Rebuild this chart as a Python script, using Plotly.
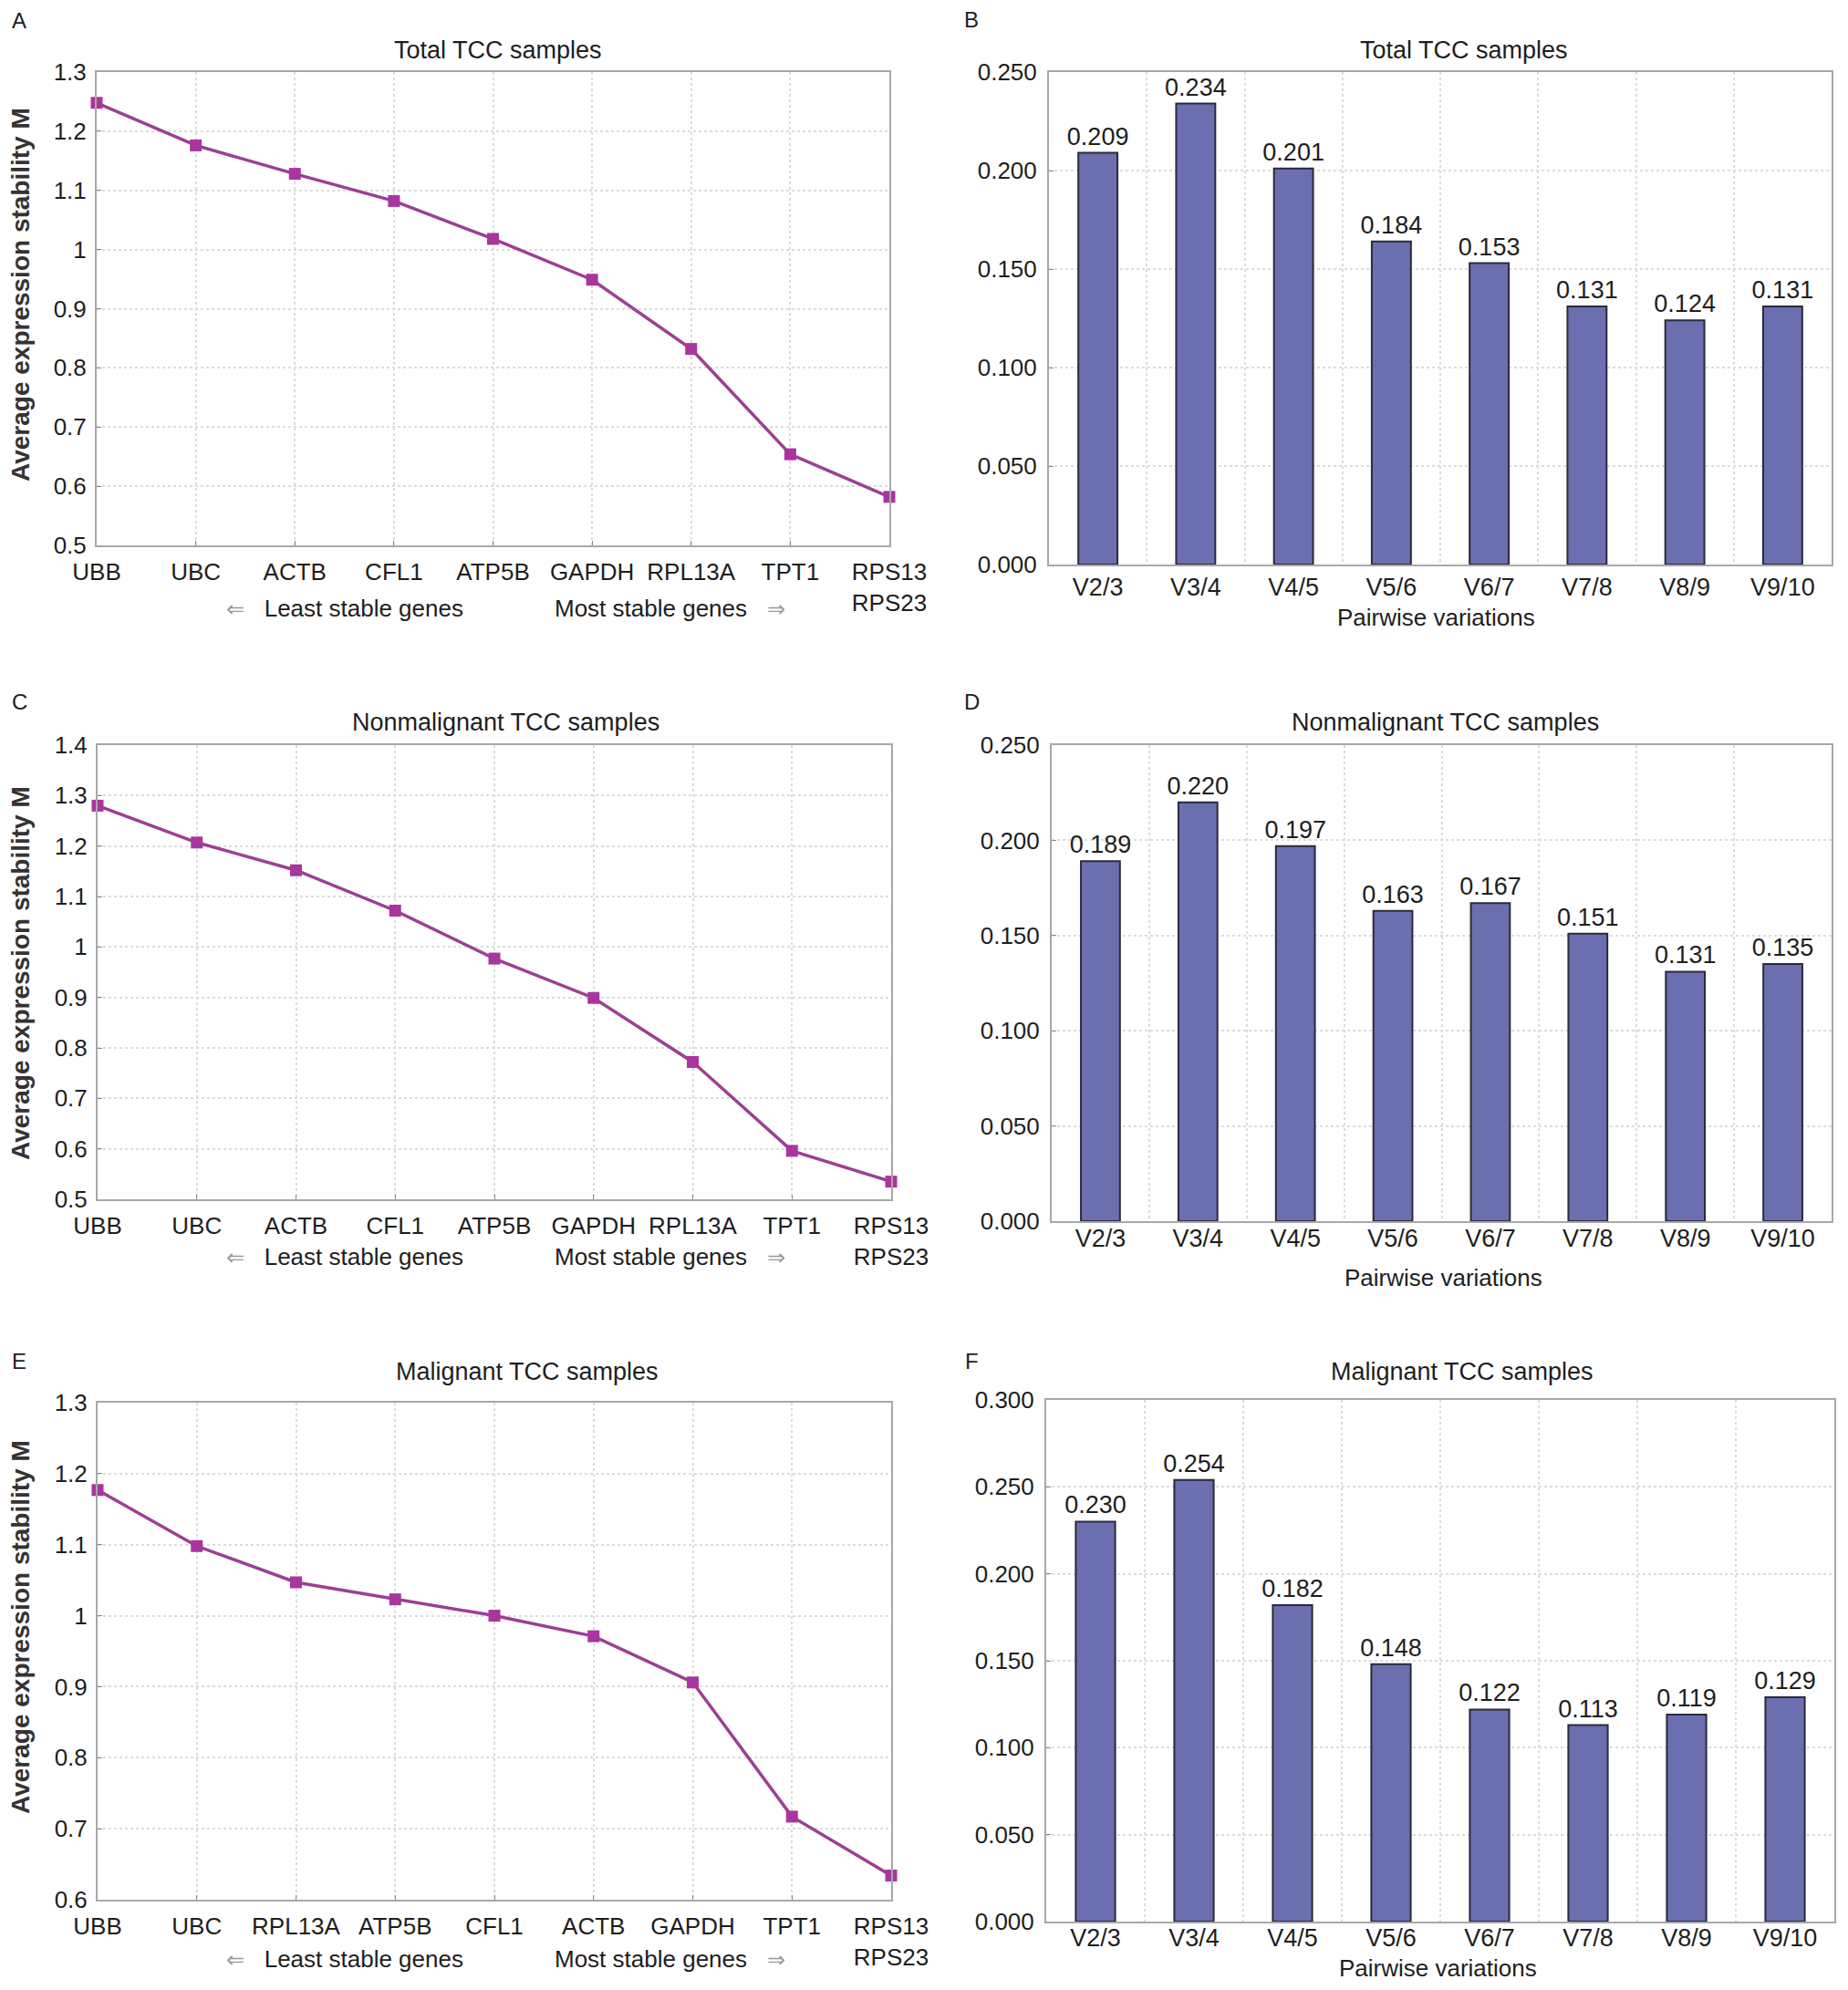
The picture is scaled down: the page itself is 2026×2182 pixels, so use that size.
import plotly.graph_objects as go
from plotly.subplots import make_subplots

# ---------------- data ----------------
genes_total = ["UBB", "UBC", "ACTB", "CFL1", "ATP5B", "GAPDH", "RPL13A", "TPT1", "RPS13<br>RPS23"]
m_total = [1.248, 1.176, 1.128, 1.082, 1.018, 0.949, 0.832, 0.654, 0.582]

genes_nonmal = ["UBB", "UBC", "ACTB", "CFL1", "ATP5B", "GAPDH", "RPL13A", "TPT1", "RPS13<br>RPS23"]
m_nonmal = [1.280, 1.207, 1.152, 1.072, 0.977, 0.899, 0.772, 0.596, 0.535]

genes_mal = ["UBB", "UBC", "RPL13A", "ATP5B", "CFL1", "ACTB", "GAPDH", "TPT1", "RPS13<br>RPS23"]
m_mal = [1.177, 1.098, 1.047, 1.023, 1.000, 0.971, 0.906, 0.717, 0.634]

pairs = ["V2/3", "V3/4", "V4/5", "V5/6", "V6/7", "V7/8", "V8/9", "V9/10"]
v_total = [0.209, 0.234, 0.201, 0.164, 0.153, 0.131, 0.124, 0.131]
v_total_labels = ["0.209", "0.234", "0.201", "0.184", "0.153", "0.131", "0.124", "0.131"]
v_nonmal = [0.189, 0.220, 0.197, 0.163, 0.167, 0.151, 0.131, 0.135]
v_nonmal_labels = ["0.189", "0.220", "0.197", "0.163", "0.167", "0.151", "0.131", "0.135"]
v_mal = [0.230, 0.254, 0.182, 0.148, 0.122, 0.113, 0.119, 0.129]
v_mal_labels = ["0.230", "0.254", "0.182", "0.148", "0.122", "0.113", "0.119", "0.129"]

titles = ["Total TCC samples", "Nonmalignant TCC samples", "Malignant TCC samples"]
panel_letters = ["A", "B", "C", "D", "E", "F"]

# page has an 8px body margin, so the figure is laid out in page pixels shifted by OFF
PAGE_W, PAGE_H = 2026, 2182
OFF = 8
W, H = PAGE_W - 2 * OFF, PAGE_H - 2 * OFF


def px(x):
    return (x - OFF) / W


def py(y):
    return 1 - (y - OFF) / H


FONT = "Liberation Sans, Arial, sans-serif"
TXT = "#1e1e1e"
LINE_C = "#9c3f93"
MARK_C = "#a9359f"
BAR_C = "#6b6fb0"
FRAME = "#a8a8a8"
GRID = "#dcdcdc"
FS = 26

fig = make_subplots(rows=3, cols=2)

line_sets = [(genes_total, m_total), (genes_nonmal, m_nonmal), (genes_mal, m_mal)]
bar_sets = [(v_total, v_total_labels), (v_nonmal, v_nonmal_labels), (v_mal, v_mal_labels)]

for r, (g, m) in enumerate(line_sets, start=1):
    fig.add_trace(go.Scatter(
        x=list(range(len(g))), y=m, mode="lines+markers",
        line=dict(color=LINE_C, width=3.5),
        marker=dict(symbol="square", size=13, color=MARK_C),
        cliponaxis=False, showlegend=False), row=r, col=1)

for r, (v, lab) in enumerate(bar_sets, start=1):
    fig.add_trace(go.Bar(
        x=pairs, y=v, text=lab, textposition="outside", constraintext="none",
        textfont=dict(family=FONT, size=27, color=TXT),
        cliponaxis=False, width=0.4,
        marker=dict(color=BAR_C, line=dict(color="#2a2a3a", width=2)),
        showlegend=False), row=r, col=2)

# plot areas in page pixel coordinates (left, right, top, bottom)
px_boxes = {
    (1, 1): (106, 975, 79, 598),
    (1, 2): (1150, 2008, 79, 619),
    (2, 1): (107, 977, 817, 1315),
    (2, 2): (1153, 2008, 817, 1339),
    (3, 1): (107, 977, 1538, 2083),
    (3, 2): (1147, 2011, 1535, 2107),
}
ytitle_y = {1: 323, 2: 1067, 3: 1784}
bar_xlabel_standoff = {1: 0, 2: -6, 3: -7}

line_ranges = [(0.5, 1.3), (0.5, 1.4), (0.6, 1.3)]
bar_ranges = [(0, 0.25), (0, 0.25), (0, 0.3)]

common_axis = dict(
    showline=True, linecolor=FRAME, linewidth=2, mirror=True,
    showgrid=True, gridcolor=GRID, griddash="dot", gridwidth=1.5,
    zeroline=False, ticks="inside", ticklen=5, tickcolor="#888888",
    automargin=False,
    tickfont=dict(family=FONT, size=FS, color=TXT),
)

annotations = []
for (r, c), (l, rt, t, b) in px_boxes.items():
    idx = (r - 1) * 2 + c
    xa = "xaxis" if idx == 1 else f"xaxis{idx}"
    ya = "yaxis" if idx == 1 else f"yaxis{idx}"
    xdom = [px(l), px(rt)]
    ydom = [py(b), py(t)]
    if c == 1:
        genes = line_sets[r - 1][0]
        lo, hi = line_ranges[r - 1]
        fig.layout[xa].update(domain=xdom, range=[0, 8], tickmode="array",
                              tickvals=list(range(len(genes))), ticktext=genes,
                              ticklabelstandoff=5, **common_axis)
        fig.layout[ya].update(domain=ydom, range=[lo, hi], dtick=0.1,
                              tickformat="~g", ticklabelstandoff=4, **common_axis)
        annotations.append(dict(text="<b>Average expression stability M</b>", textangle=-90,
                                x=px(22), y=py(ytitle_y[r]),
                                xref="paper", yref="paper", showarrow=False,
                                xanchor="center", yanchor="middle",
                                font=dict(family=FONT, size=28, color="#333333")))
    else:
        lo, hi = bar_ranges[r - 1]
        fig.layout[xa].update(domain=xdom, range=[-0.5, 7.5], tickson="boundaries",
                              ticklabelstandoff=bar_xlabel_standoff[r], **common_axis)
        fig.layout[xa].ticks = ""
        fig.layout[xa].tickfont.size = 27
        fig.layout[ya].update(domain=ydom, range=[lo, hi], dtick=0.05,
                              tickformat=".3f", ticklabelstandoff=6, **common_axis)

# panel titles
title_pos = [(546, 55), (1605, 55), (554, 792), (1584, 792), (578, 1504), (1603, 1504)]
for i, (x, y) in enumerate(title_pos):
    annotations.append(dict(text=titles[i // 2], x=px(x), y=py(y),
                            xref="paper", yref="paper", showarrow=False,
                            xanchor="center", yanchor="middle",
                            font=dict(family=FONT, size=27, color=TXT)))
# panel letters
letter_pos = [(21, 22), (1065, 21), (21, 770), (1065, 770), (21, 1492), (1065, 1492)]
for i, (x, y) in enumerate(letter_pos):
    annotations.append(dict(text=panel_letters[i], x=px(x), y=py(y),
                            xref="paper", yref="paper", showarrow=False,
                            xanchor="center", yanchor="middle",
                            font=dict(family=FONT, size=24, color=TXT)))
# least / most stable gene notes
for y in (667, 1378, 2148):
    annotations.append(dict(text="<span style='color:#9a9a9a;font-size:24px'>⇐</span>   Least stable genes",
                            x=px(378), y=py(y), xref="paper", yref="paper",
                            showarrow=False, xanchor="center", yanchor="middle",
                            font=dict(family=FONT, size=FS, color=TXT)))
    annotations.append(dict(text="Most stable genes   <span style='color:#9a9a9a;font-size:24px'>⇒</span>",
                            x=px(734), y=py(y), xref="paper", yref="paper",
                            showarrow=False, xanchor="center", yanchor="middle",
                            font=dict(family=FONT, size=FS, color=TXT)))
# pairwise variations titles
for x, y in ((1574, 677), (1582, 1401), (1576, 2158)):
    annotations.append(dict(text="Pairwise variations", x=px(x), y=py(y),
                            xref="paper", yref="paper", showarrow=False,
                            xanchor="center", yanchor="middle",
                            font=dict(family=FONT, size=FS, color=TXT)))

fig.update_layout(
    width=W, height=H, margin=dict(l=0, r=0, t=0, b=0),
    paper_bgcolor="white", plot_bgcolor="white",
    font=dict(family=FONT, color=TXT),
    annotations=annotations,
)

fig.write_html("out.html")
